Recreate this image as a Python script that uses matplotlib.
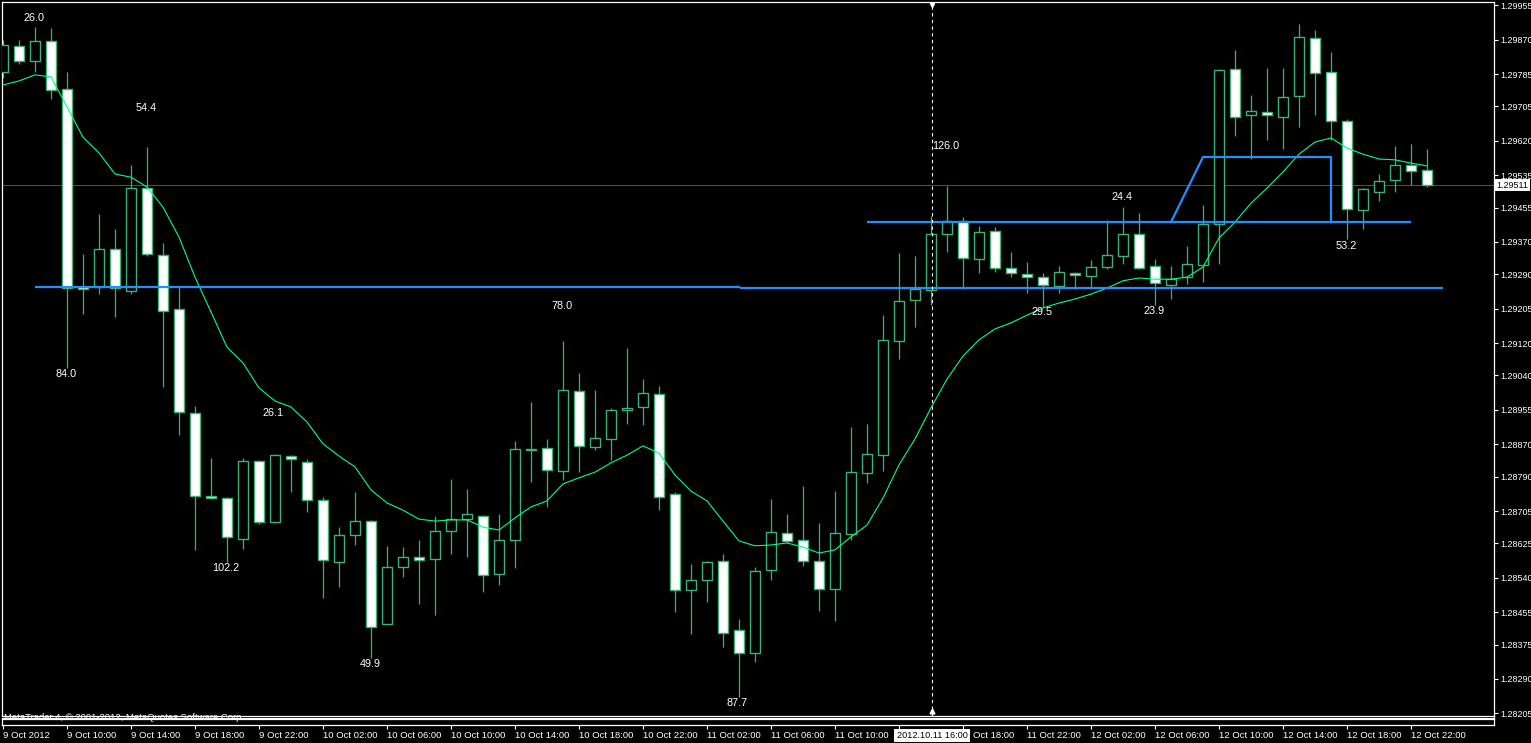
import matplotlib
matplotlib.use("Agg")
import matplotlib.pyplot as plt
import numpy as np
from matplotlib.transforms import blended_transform_factory as btf, offset_copy
from matplotlib.lines import Line2D

W, H, DPI = 1531, 743, 100

# ---------------- data (EURUSD-like H1 bars, 9-12 Oct 2012) ----------------
opens = [1.29790, 1.29854, 1.29817, 1.29867, 1.29748, 1.29259, 1.29259, 1.29353, 1.29249, 1.29503,
         1.29338, 1.29204, 1.28947, 1.28742, 1.28737, 1.28636, 1.28829, 1.28678, 1.28841, 1.28826,
         1.28732, 1.28579, 1.28646, 1.28680, 1.28426, 1.28567, 1.28591, 1.28586, 1.28656, 1.28685,
         1.28693, 1.28549, 1.28633, 1.28858, 1.28861, 1.28804, 1.29002, 1.28863, 1.28883, 1.28955,
         1.28962, 1.28994, 1.28747, 1.28510, 1.28535, 1.28581, 1.28411, 1.28354, 1.28559, 1.28651,
         1.28633, 1.28581, 1.28512, 1.28648, 1.28799, 1.28843, 1.29125, 1.29227, 1.29251, 1.29390,
         1.29422, 1.29328, 1.29397, 1.29306, 1.29291, 1.29283, 1.29261, 1.29293, 1.29286, 1.29308,
         1.29335, 1.29390, 1.29311, 1.29264, 1.29283, 1.29313, 1.29414, 1.29797, 1.29684, 1.29691,
         1.29679, 1.29731, 1.29874, 1.29790, 1.29669, 1.29449, 1.29493, 1.29523, 1.29560, 1.29548]
highs = [1.29869, 1.29869, 1.29901, 1.29899, 1.29790, 1.29340, 1.29439, 1.29402, 1.29560, 1.29605,
         1.29367, 1.29259, 1.28965, 1.28836, 1.28740, 1.28836, 1.28831, 1.28846, 1.28843, 1.28834,
         1.28740, 1.28665, 1.28752, 1.28683, 1.28619, 1.28616, 1.28633, 1.28693, 1.28784, 1.28759,
         1.28695, 1.28698, 1.28878, 1.28974, 1.28883, 1.29125, 1.29046, 1.29004, 1.28960, 1.29108,
         1.29031, 1.29014, 1.28752, 1.28574, 1.28581, 1.28599, 1.28438, 1.28567, 1.28735, 1.28698,
         1.28767, 1.28675, 1.28754, 1.28913, 1.28920, 1.29189, 1.29343, 1.29335, 1.29434, 1.29508,
         1.29432, 1.29409, 1.29407, 1.29345, 1.29320, 1.29293, 1.29311, 1.29296, 1.29325, 1.29424,
         1.29456, 1.29442, 1.29328, 1.29311, 1.29360, 1.29461, 1.29797, 1.29844, 1.29733, 1.29800,
         1.29800, 1.29909, 1.29894, 1.29840, 1.29674, 1.29503, 1.29538, 1.29607, 1.29612, 1.29600]
lows = [1.29775, 1.29810, 1.29790, 1.29723, 1.29059, 1.29192, 1.29241, 1.29185, 1.29241, 1.29335,
        1.29012, 1.28893, 1.28609, 1.28735, 1.28579, 1.28611, 1.28673, 1.28675, 1.28752, 1.28703,
        1.28490, 1.28517, 1.28621, 1.28342, 1.28426, 1.28542, 1.28475, 1.28448, 1.28599, 1.28591,
        1.28505, 1.28522, 1.28564, 1.28777, 1.28715, 1.28782, 1.28801, 1.28856, 1.28831, 1.28920,
        1.28918, 1.28707, 1.28455, 1.28401, 1.28480, 1.28369, 1.28245, 1.28332, 1.28535, 1.28626,
        1.28569, 1.28458, 1.28433, 1.28633, 1.28774, 1.28804, 1.29081, 1.29160, 1.29214, 1.29345,
        1.29254, 1.29293, 1.29296, 1.29283, 1.29244, 1.29209, 1.29244, 1.29254, 1.29259, 1.29303,
        1.29316, 1.29303, 1.29214, 1.29229, 1.29266, 1.29271, 1.29316, 1.29632, 1.29575, 1.29622,
        1.29600, 1.29654, 1.29684, 1.29622, 1.29377, 1.29402, 1.29471, 1.29493, 1.29511, 1.29506]
closes = [1.29857, 1.29817, 1.29867, 1.29746, 1.29256, 1.29254, 1.29353, 1.29256, 1.29503, 1.29340,
          1.29199, 1.28950, 1.28742, 1.28737, 1.28641, 1.28829, 1.28678, 1.28843, 1.28834, 1.28732,
          1.28584, 1.28646, 1.28680, 1.28418, 1.28567, 1.28591, 1.28584, 1.28656, 1.28685, 1.28698,
          1.28547, 1.28633, 1.28858, 1.28856, 1.28806, 1.29004, 1.28866, 1.28885, 1.28955, 1.28960,
          1.28997, 1.28740, 1.28510, 1.28535, 1.28579, 1.28403, 1.28354, 1.28557, 1.28653, 1.28631,
          1.28581, 1.28512, 1.28651, 1.28801, 1.28846, 1.29128, 1.29224, 1.29254, 1.29390, 1.29422,
          1.29330, 1.29395, 1.29306, 1.29293, 1.29283, 1.29264, 1.29296, 1.29288, 1.29308, 1.29338,
          1.29390, 1.29306, 1.29269, 1.29278, 1.29316, 1.29414, 1.29795, 1.29679, 1.29694, 1.29684,
          1.29728, 1.29877, 1.29788, 1.29669, 1.29451, 1.29501, 1.29521, 1.29560, 1.29545, 1.29511]
ma_values = [1.29758, 1.29768, 1.29783, 1.29778, 1.29704, 1.29629, 1.29590, 1.29538, 1.29530, 1.29506,
             1.29456, 1.29382, 1.29283, 1.29197, 1.29110, 1.29071, 1.29009, 1.28977, 1.28962, 1.28925,
             1.28871, 1.28841, 1.28814, 1.28757, 1.28725, 1.28707, 1.28685, 1.28680, 1.28683, 1.28683,
             1.28665, 1.28658, 1.28688, 1.28715, 1.28730, 1.28772, 1.28787, 1.28801, 1.28824, 1.28843,
             1.28866, 1.28848, 1.28794, 1.28754, 1.28730, 1.28680, 1.28631, 1.28619, 1.28621, 1.28626,
             1.28616, 1.28601, 1.28609, 1.28641, 1.28670, 1.28737, 1.28819, 1.28883, 1.28960, 1.29031,
             1.29088, 1.29128, 1.29155, 1.29170, 1.29189, 1.29207, 1.29219, 1.29229, 1.29241, 1.29256,
             1.29274, 1.29281, 1.29278, 1.29278, 1.29283, 1.29308, 1.29380, 1.29419, 1.29466, 1.29503,
             1.29543, 1.29587, 1.29617, 1.29627, 1.29602, 1.29587, 1.29575, 1.29573, 1.29565, 1.29558]

price_ticks = [1.29955, 1.29870, 1.29785, 1.29705, 1.29620, 1.29535, 1.29455, 1.29370, 1.29290, 1.29205,
               1.29120, 1.29040, 1.28955, 1.28870, 1.28790, 1.28705, 1.28625, 1.28540, 1.28455, 1.28375,
               1.28290, 1.28205]
time_tick_bars = list(range(0, 89, 4))
# "11 Oct 14:00" sits under the cursor time box; of "11 Oct 18:00" only "Oct 18:00" shows
time_labels = ["9 Oct 2012", "9 Oct 10:00", "9 Oct 14:00", "9 Oct 18:00", "9 Oct 22:00",
               "10 Oct 02:00", "10 Oct 06:00", "10 Oct 10:00", "10 Oct 14:00", "10 Oct 18:00",
               "10 Oct 22:00", "11 Oct 02:00", "11 Oct 06:00", "11 Oct 10:00", "",
               "Oct 18:00", "11 Oct 22:00", "12 Oct 02:00", "12 Oct 06:00", "12 Oct 10:00",
               "12 Oct 14:00", "12 Oct 18:00", "12 Oct 22:00"]

ann_bars = [1.93, 8.94, 3.94, 16.9, 13.94, 22.94, 34.94, 45.9, 58.94, 69.94, 64.94, 71.94, 83.94]
ann_prices = [1.29924, 1.29701, 1.29044, 1.28947, 1.28564, 1.28327, 1.29212, 1.28231, 1.29607,
              1.29481, 1.29197, 1.29199, 1.29360]
ann_texts = ["26.0", "54.4", "84.0", "26.1", "102.2", "49.9", "78.0", "87.7", "126.0",
             "24.4", "29.5", "23.9", "53.2"]

# blue drawn levels: (bar start, bar end) / (price start, price end)
level_bars = [[2, 46.06], [46.06, 90], [54, 88]]
level_prices = [[1.29259, 1.29259], [1.29256, 1.29256], [1.29419, 1.29419]]
box_bars = [73, 75, 83, 83]
box_prices = [1.29419, 1.29580, 1.29580, 1.29419]

bid_price = 1.29511
cursor_bar = 58.06
cursor_label = "2012.10.11 16:00"
copyright_text = "MetaTrader 4, \u00a9 2001-2012, MetaQuotes Software Corp."

# ---------------- styling ----------------
GREEN = "#3CB371"
MA_GREEN = "#00FF7F"
BLUE = "#1E90FF"
plt.rcParams["font.family"] = ["Liberation Sans", "DejaVu Sans"]

fig = plt.figure(figsize=(W / DPI, H / DPI), dpi=DPI, facecolor="black")


def fx(px):
    return px / W


def fy(py):
    return 1 - py / H


ax = fig.add_axes([fx(2), fy(716), fx(1494) - fx(2), fy(2) - fy(716)])
ax.set_facecolor("black")
ax.set_xlim(-0.0625, 93.1875)
ax.set_ylim(1.281983, 1.299631)
for s in ax.spines.values():
    s.set_color("white")
    s.set_linewidth(0.9)

ax.yaxis.tick_right()
ax.set_yticks(price_ticks)
ax.set_yticklabels([f"{p:.5f}" for p in price_ticks])
ax.tick_params(axis="y", colors="white", length=3, width=0.8, pad=1.8, labelsize=6.5)
ax.set_xticks([])

x = np.arange(len(opens))
o = np.array(opens)
c = np.array(closes)
hi = np.array(highs)
lo = np.array(lows)
bull = c >= o

ax.vlines(x, lo, hi, color=GREEN, lw=0.9, zorder=2)
bottoms = np.minimum(o, c)
heights = np.maximum(np.abs(c - o), 0.000006)
ax.bar(x, heights, bottom=bottoms, width=0.64,
       color=["black" if b else "white" for b in bull],
       edgecolor=GREEN, linewidth=1.0, zorder=3)

ax.plot(x, ma_values, color=MA_GREEN, lw=0.8, zorder=4)

ax.axhline(bid_price, color="#B010B0", lw=0.7, zorder=1)

for bx, py in zip(level_bars, level_prices):
    ax.plot(bx, py, color=BLUE, lw=1.6, zorder=5, solid_capstyle="butt")
ax.plot(box_bars, box_prices, color=BLUE, lw=1.6, zorder=5)

for bx, py, t in zip(ann_bars, ann_prices, ann_texts):
    ax.text(bx, py, t, color="white", fontsize=7.8, ha="center", va="center", zorder=6)

ax.axvline(cursor_bar, color="white", lw=0.8, ls=(0, (3, 3)), zorder=6)
ax.plot([cursor_bar], [1.29955], marker="v", ms=3, color="white", zorder=7, clip_on=False)
ax.plot([cursor_bar], [1.28210], marker="^", ms=3.5, color="white", zorder=7, clip_on=False)

# bid price box on the price scale
fig.text(fx(1496), fy(185), "1.29511", color="black", fontsize=6.5, ha="left", va="center",
         bbox=dict(facecolor="white", edgecolor="none", pad=1.2))

# thin lower sub-window with the time scale
ax2 = fig.add_axes([fx(2), fy(725), fx(1494) - fx(2), fy(719) - fy(725)])
ax2.set_facecolor("black")
ax2.set_xlim(ax.get_xlim())
ax2.set_yticks([])
for s in ax2.spines.values():
    s.set_color("white")
    s.set_linewidth(0.9)
ax2.set_xticks(time_tick_bars)
ax2.set_xticklabels(time_labels)
ax2.tick_params(axis="x", colors="white", length=3, width=0.8, pad=1.5, labelsize=6.8)
for lab in ax2.get_xticklabels():
    lab.set_ha("left")
    if lab.get_text() == "Oct 18:00":
        lab.set_transform(offset_copy(lab.get_transform(), fig=fig, x=10, units="dots"))

fig.add_artist(Line2D([fx(2), fx(1494)], [fy(717.8), fy(717.8)], color="white", lw=0.8,
                      transform=fig.transFigure))
fig.add_artist(Line2D([fx(1494), fx(1494)], [fy(716), fy(719)], color="white", lw=0.9,
                      transform=fig.transFigure))

fig.text(fx(4), fy(717), copyright_text, color="white", fontsize=6.8, ha="left", va="center")

tr = btf(ax.transData, fig.transFigure)
fig.text(cursor_bar, fy(735.5), cursor_label, transform=tr, color="black", fontsize=6.6,
         ha="center", va="center", zorder=10,
         bbox=dict(facecolor="white", edgecolor="none", pad=1.5))

fig.savefig("out.png", dpi=DPI, facecolor="black")
